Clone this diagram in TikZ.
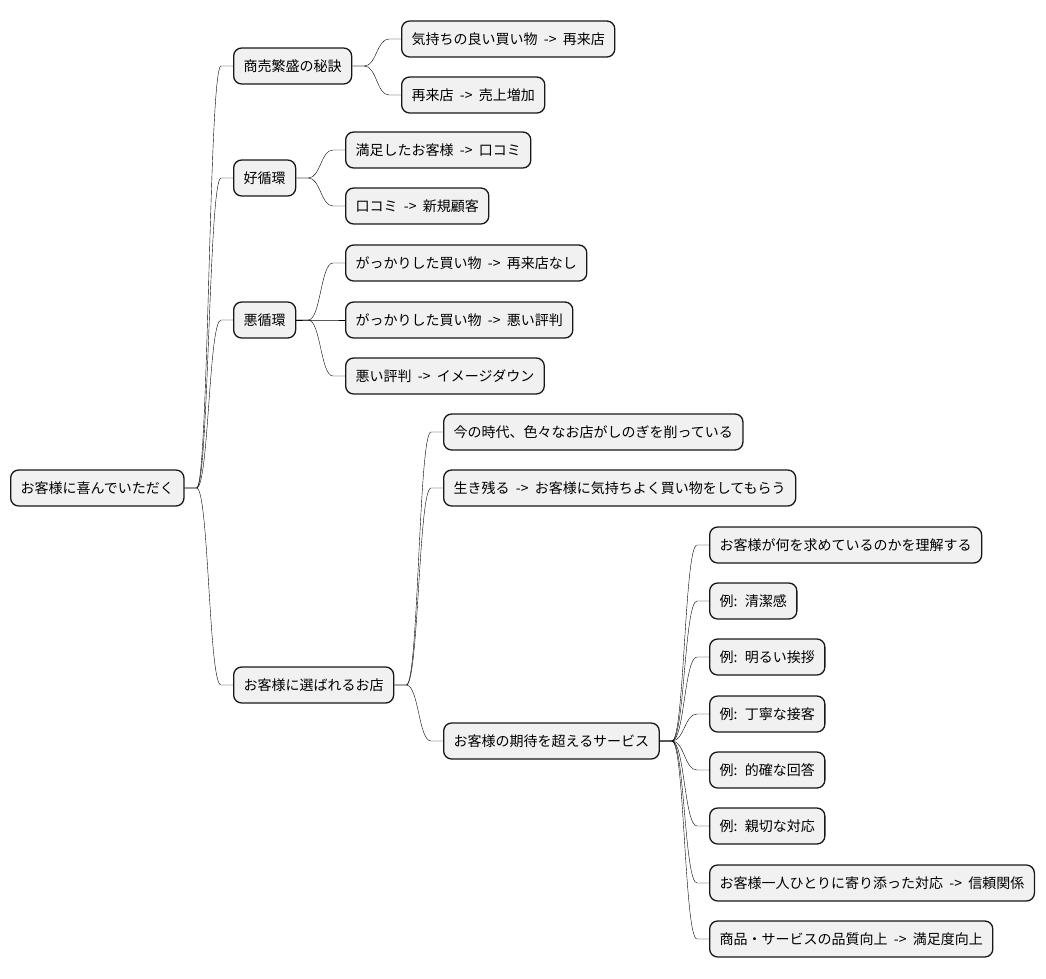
\documentclass[tikz,border=0pt]{standalone}
\usepackage{fontspec}
\usepackage{xcolor}
\usepackage{tikz}
\usetikzlibrary{calc,positioning}
\newfontfamily\jpfont[WordSpace=2]{Noto Sans CJK JP}
\definecolor{boxfill}{HTML}{F1F1F1}
\definecolor{boxline}{HTML}{181818}

\begin{document}
\begin{tikzpicture}[
            x=1pt, y=-1pt,
            topic/.style={rectangle, rounded corners=8pt, draw=boxline, fill=boxfill, line width=1.3pt, minimum height=36pt, inner xsep=10pt, anchor=west, font=\jpfont\fontsize{14}{16}\selectfont},
            branch/.style={draw=black, line width=1pt, to path={let \p1=(\tikztostart.east), \p2=(\tikztotarget.west) in (\p1) -- (\x1+12pt,\y1) .. controls ({(\x1+\x2)/2},\y1) and ({(\x1+\x2)/2},\y2) .. (\x2-12pt,\y2) -- (\p2)}}
        ]
        \useasboundingbox (0,0) rectangle (1046,978);
        
        \node[topic] (root) at (10,488) {お客様に喜んでいただく};
        
        \node[topic] (secret) at (233,66) {商売繁盛の秘訣};
        \node[topic] (good_cycle) at (233,178) {好循環};
        \node[topic] (bad_cycle) at (233,320) {悪循環};
        \node[topic] (chosen_shop) at (233,685) {お客様に選ばれるお店};
        
        \node[topic] (pleasant_buy) at (401,39) {気持ちの良い買い物 -> 再来店};
        \node[topic] (repeat_sales) at (401,95) {再来店 -> 売上増加};
        
        \node[topic] (satisfied) at (345,150) {満足したお客様 -> 口コミ};
        \node[topic] (word_mouth) at (345,206) {口コミ -> 新規顧客};
        
        \node[topic] (no_return) at (345,263) {がっかりした買い物 -> 再来店なし};
        \node[topic] (bad_review) at (345,320) {がっかりした買い物 -> 悪い評判};
        \node[topic] (image_down) at (345,376) {悪い評判 -> イメージダウン};
        
        \node[topic] (competition) at (443,432) {今の時代、色々なお店がしのぎを削っている};
        \node[topic] (survive) at (443,488) {生き残る -> お客様に気持ちよく買い物をしてもらう};
        \node[topic] (service) at (443,741) {お客様の期待を超えるサービス};
        
        \node[topic] (understand) at (709,545) {お客様が何を求めているのかを理解する};
        \node[topic] (clean) at (709,601) {例: 清潔感};
        \node[topic] (greeting) at (709,657) {例: 明るい挨拶};
        \node[topic] (polite) at (709,714) {例: 丁寧な接客};
        \node[topic] (answer) at (709,770) {例: 的確な回答};
        \node[topic] (kind) at (709,826) {例: 親切な対応};
        \node[topic] (trust) at (709,883) {お客様一人ひとりに寄り添った対応 -> 信頼関係};
        \node[topic] (quality) at (709,939) {商品・サービスの品質向上 -> 満足度向上};
        
        \draw (root) to[branch] (secret);
        \draw (root) to[branch] (good_cycle);
        \draw (root) to[branch] (bad_cycle);
        \draw (root) to[branch] (chosen_shop);
        \draw (secret) to[branch] (pleasant_buy);
        \draw (secret) to[branch] (repeat_sales);
        \draw (good_cycle) to[branch] (satisfied);
        \draw (good_cycle) to[branch] (word_mouth);
        \draw (bad_cycle) to[branch] (no_return);
        \draw (bad_cycle) to[branch] (bad_review);
        \draw (bad_cycle) to[branch] (image_down);
        \draw (chosen_shop) to[branch] (competition);
        \draw (chosen_shop) to[branch] (survive);
        \draw (chosen_shop) to[branch] (service);
        \draw (service) to[branch] (understand);
        \draw (service) to[branch] (clean);
        \draw (service) to[branch] (greeting);
        \draw (service) to[branch] (polite);
        \draw (service) to[branch] (answer);
        \draw (service) to[branch] (kind);
        \draw (service) to[branch] (trust);
        \draw (service) to[branch] (quality);
        
        \end{tikzpicture}
\end{document}
